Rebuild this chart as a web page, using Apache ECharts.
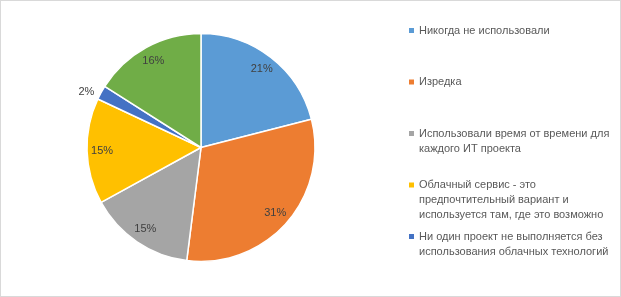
<!DOCTYPE html>
<html>
<head>
<meta charset="utf-8">
<script src="https://cdn.jsdelivr.net/npm/echarts@6/dist/echarts.min.js"></script>
<style>
  html, body { margin: 0; padding: 0; background: #fff; }
  #chart {
    width: 621px;
    height: 297px;
    box-sizing: border-box;
    border: 1px solid #d9d9d9;
  }
</style>
</head>
<body>
<div id="chart"></div>
<script>
// доля ответов, %
const names = [
  'Никогда не использовали',
  'Изредка',
  'Использовали время от времени для каждого ИТ проекта',
  'Облачный сервис - это предпочтительный вариант и используется там, где это возможно',
  'Ни один проект не выполняется без использования облачных технологий',
  'Другое'
]
const values = [21, 31, 15, 15, 2, 16]
const colors = ['#5B9BD5', '#ED7D31', '#A5A5A5', '#FFC000', '#4472C4', '#70AD47']
// строки подписей легенды (зелёный сектор в легенде не виден)
const legendLines = [
  ['Никогда не использовали'],
  ['Изредка'],
  ['Использовали время от времени для', 'каждого ИТ проекта'],
  ['Облачный сервис - это', 'предпочтительный вариант и', 'используется там, где это возможно'],
  ['Ни один проект не выполняется без', 'использования облачных технологий']
]

const chart = echarts.init(document.getElementById('chart'))
const lh = 15
const font = 'Liberation Sans'

// иконка легенды выравнивается по середине текста, поэтому добавляем пустые строки сверху
const legends = legendLines.map((lines, i) => {
  const n = lines.length
  const firstLineY = 30.5 + i * 51.5
  return {
    orient: 'vertical',
    left: 408,
    top: firstLineY - (2 * n - 1) * lh / 2 - 1,
    padding: 0,
    icon: 'rect',
    itemWidth: 5,
    itemHeight: 5,
    itemStyle: { borderWidth: 0 },
    selectedMode: false,
    data: [names[i]],
    formatter: () => '\n'.repeat(n - 1) + lines.join('\n'),
    textStyle: {
      fontFamily: font,
      fontSize: 11,
      color: '#595959',
      lineHeight: lh
    }
  }
})

chart.setOption({
  animation: false,
  color: colors,
  legend: legends,
  series: [
    {
      type: 'pie',
      center: [200, 146.5],
      radius: [0, 114],
      startAngle: 90,
      clockwise: true,
      silent: true,
      itemStyle: { borderColor: '#fff', borderWidth: 1.5 },
      label: {
        show: true,
        position: 'outside',
        formatter: '{c}%',
        fontFamily: font,
        fontSize: 11,
        color: '#404040'
      },
      labelLine: { show: false, length: 2, length2: 0 },
      data: names.map((name, i) => ({
        name: name,
        value: values[i],
        label: { show: values[i] < 5 }
      }))
    },
    {
      // прозрачное кольцо только для подписей ближе к краю
      type: 'pie',
      center: [200, 146.5],
      radius: [78, 114],
      startAngle: 90,
      clockwise: true,
      silent: true,
      itemStyle: { color: 'rgba(0,0,0,0)', borderWidth: 0 },
      label: {
        show: true,
        position: 'inside',
        formatter: '{c}%',
        fontFamily: font,
        fontSize: 11,
        color: '#404040'
      },
      data: names.map((name, i) => ({
        name: name,
        value: values[i],
        label: { show: values[i] >= 5 }
      }))
    }
  ]
})
</script>
</body>
</html>
